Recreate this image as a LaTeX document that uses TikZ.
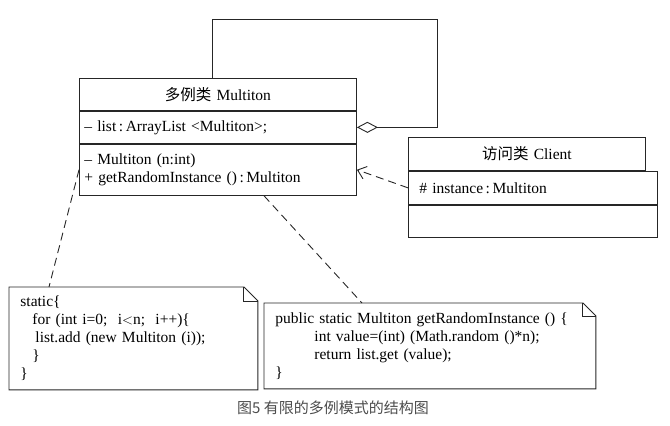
\documentclass[tikz,border=0pt]{standalone}
\usepackage{fontspec}
\setmainfont{Liberation Serif}
\newfontfamily\cjk{Noto Sans CJK SC}
\usetikzlibrary{arrows.meta}
\begin{document}
\begin{tikzpicture}[x=1pt,y=-1pt,line width=0.9pt,
  part/.style={draw=black!85,anchor=north west,inner xsep=#1,inner ysep=0pt,
    align=left,font=\fontsize{15.5}{18}\selectfont},
  part/.default=5pt,
  head/.style={part,align=center},
  note/.style={anchor=north west,inner xsep=11pt,inner ysep=0pt,align=left,
    font=\fontsize{15.5}{18}\selectfont},
  dep/.style={draw=black!85,dash pattern=on 8pt off 5pt}]

  \useasboundingbox (0,0) rectangle (670,426);

  % class Multiton
  \node[head,text width=267pt,minimum height=32pt] (mhead) at (79,78) {{\cjk 多例类}\ Multiton};
  \node[part,text width=267pt,minimum height=32pt] (mattr) at (mhead.south west) {-- list\,:\,ArrayList <Multiton>;};
  \node[part,text width=267pt,minimum height=51pt] (mops) at (mattr.south west)
    {-- Multiton (n:int)\\+ getRandomInstance ()\,:\,Multiton};

  % class Client
  \node[head=11pt,text width=227pt,minimum height=33pt] (chead) at (408,137) {{\cjk 访问类}\ Client};
  \node[part=11pt,text width=227pt,minimum height=33pt] (cattr) at (chead.south west) {\# instance\,:\,Multiton};
  \node[part=11pt,text width=227pt,minimum height=32pt] (cops) at (cattr.south west) {};

  % notes
  \node[note,text width=226pt,minimum height=102pt] (note1) at (9,287)
    {static\{\\
     \hspace*{12pt}for (int i=0;\ \ i$<$n;\ \ i++)\{\\
     \hspace*{15pt}list.add (new Multiton (i));\\
     \hspace*{12pt}\}\\
     \}};
  \node[note,text width=309pt,minimum height=85pt] (note2) at (264,303)
    {public static Multiton getRandomInstance () \{\\
     \hspace*{39pt}int value=(int) (Math.random ()*n);\\
     \hspace*{39pt}return list.get (value);\\
     \}};

  \foreach \n/\f in {note1/14pt,note2/13pt}{
    \draw[draw=black!85] (\n.north west) -- ([xshift=-\f]\n.north east)
      -- ([yshift=-\f]\n.north east) -- (\n.south east) -- (\n.south west) -- cycle;
    \draw[draw=black!85] ([xshift=-\f]\n.north east) |- ([yshift=-\f]\n.north east);
  }

  % self aggregation
  \coordinate (loop) at (437,19);
  \draw[draw=black!85,-{Diamond[open,length=21pt,width=11pt]}]
    ([xshift=-6pt]mhead.north) |- (loop) |- (mattr.east);

  % dependency and note links
  \draw[dep,-{Straight Barb[length=8pt,width=13pt]}] (cattr.west) -- (mops.east);
  \draw[dep] (mops.west) -- ([xshift=40pt]note1.north west);
  \draw[dep] ([xshift=46pt]mops.south) -- ([xshift=98pt]note2.north west);

  \node[font=\cjk\fontsize{15}{18}\selectfont,text=black!70] (cap) at (333,408)
    {图5 有限的多例模式的结构图};
\end{tikzpicture}
\end{document}
